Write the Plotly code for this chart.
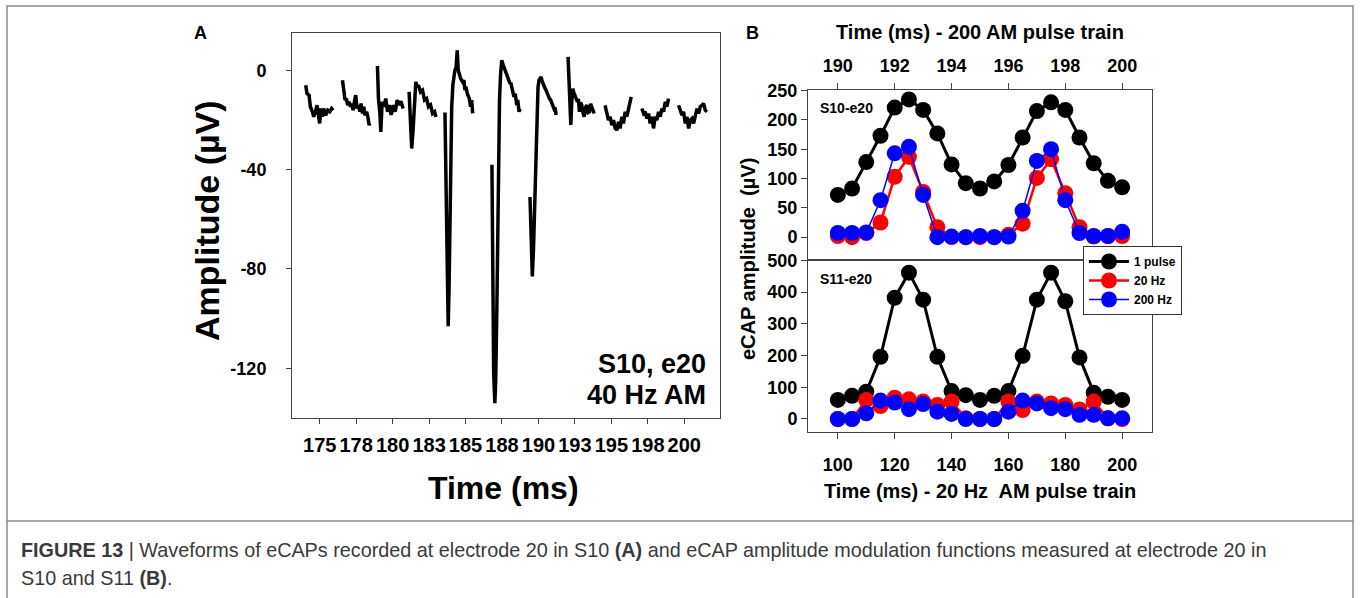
import plotly.graph_objects as go

FONT = "Arial, Liberation Sans, sans-serif"
W, H = 1360, 598

# ---- panel A: eCAP waveform, one segment per pulse (ms, uV) ----
seg1_t = [174.04, 174.13, 174.27, 174.36, 174.50, 174.59, 174.73, 174.82, 174.91, 175.00, 175.09, 175.19, 175.27, 175.41, 175.55, 175.69, 175.82, 175.92]
seg1_v = [-6.0, -9.4, -10.0, -14.7, -16.7, -18.7, -16.1, -14.1, -18.1, -21.4, -15.4, -18.7, -15.4, -18.1, -16.1, -16.7, -15.4, -16.1]
seg2_t = [176.56, 176.65, 176.74, 176.83, 176.92, 177.01, 177.11, 177.20, 177.29, 177.38, 177.47, 177.56, 177.66, 177.75, 177.84, 177.93, 178.02, 178.11, 178.21, 178.30, 178.39, 178.43]
seg2_v = [-4.0, -10.0, -12.0, -11.4, -14.1, -12.7, -14.7, -13.4, -16.1, -12.7, -10.0, -15.4, -14.1, -16.7, -13.4, -17.4, -14.7, -18.1, -16.7, -18.7, -22.1, -21.4]
seg3_t = [178.96, 179.03, 179.12, 179.19, 179.28, 179.40, 179.53, 179.65, 179.76, 179.90, 180.04, 180.18, 180.31, 180.45, 180.57, 180.72]
seg3_v = [1.7, -11.4, -16.7, -24.8, -12.7, -14.7, -11.4, -16.7, -14.0, -18.0, -14.0, -16.7, -12.0, -14.0, -12.5, -15.4]
seg4_t = [181.13, 181.22, 181.31, 181.41, 181.50, 181.59, 181.68, 181.77, 181.91, 182.05, 182.19, 182.33, 182.46, 182.60, 182.74, 182.88, 182.97]
seg4_v = [-8.7, -20.8, -31.5, -23.4, -10.0, -4.7, -6.7, -6.0, -8.7, -8.0, -12.0, -11.4, -14.7, -14.0, -17.4, -16.7, -18.8]
seg5_t = [183.59, 183.67, 183.75, 183.81, 183.87, 183.93, 183.97, 184.05, 184.13, 184.20, 184.27, 184.35, 184.43, 184.50, 184.57, 184.66, 184.80, 184.89, 184.96, 185.03, 185.12, 185.26, 185.35, 185.42, 185.49]
seg5_v = [-17, -60, -95, -103, -88, -55, -32, -15, -6, -2, 0, 1, 8, 0, -1.3, -3.3, -4.7, -4.0, -8.0, -6.7, -9.4, -11.4, -14.7, -12.0, -17.4]
seg6_t = [186.81, 186.86, 186.93, 187.01, 187.07, 187.15, 187.22, 187.27, 187.33, 187.40, 187.48, 187.59, 187.71, 187.82, 187.95, 188.05, 188.10, 188.23, 188.32, 188.41, 188.51, 188.58, 188.67, 188.74]
seg6_v = [-38, -85, -122, -134, -125, -95, -60, -35, -12, -2, 4, 2, 0, -1.3, -3, -5.4, -5.0, -8.0, -10.7, -9.4, -14.0, -12.0, -16.7, -15.5]
seg7_t = [189.42, 189.50, 189.58, 189.66, 189.74, 189.82, 189.90, 189.97, 190.04, 190.11, 190.18, 190.26, 190.34, 190.43, 190.52, 190.60, 190.68, 190.76, 190.84, 190.92, 191.00, 191.07, 191.14, 191.21]
seg7_v = [-51, -72, -83, -72, -52, -30, -14, -7, -4, -3, -2.7, -4.5, -6, -7, -8, -9.5, -10, -11.5, -12, -13.5, -14, -15.5, -15, -18]
seg8_t = [192.03, 192.12, 192.22, 192.29, 192.35, 192.43, 192.51, 192.59, 192.67, 192.74, 192.81, 192.89, 192.97, 193.05, 193.13, 193.22, 193.32, 193.41, 193.50, 193.58, 193.66, 193.74, 193.82]
seg8_v = [5.4, -8, -22, -12, -7.4, -9, -10, -11, -12.7, -11.5, -16.7, -13, -14, -17, -18.7, -15, -14, -17, -16.7, -13.5, -14.7, -16, -17.4]
seg9_t = [194.57, 194.69, 194.80, 194.92, 195.03, 195.15, 195.26, 195.38, 195.49, 195.60, 195.72, 195.83, 195.95, 196.06, 196.18, 196.29, 196.36]
seg9_v = [-14.1, -16.7, -20.1, -18.7, -22.1, -20.1, -23.4, -24.1, -20.8, -23.4, -18.7, -21.4, -16.7, -18.7, -15.4, -12.7, -10.7]
seg10_t = [197.09, 197.21, 197.32, 197.44, 197.55, 197.66, 197.78, 197.89, 198.01, 198.12, 198.24, 198.35, 198.47, 198.58, 198.70, 198.81, 198.92]
seg10_v = [-15.4, -17.4, -16.7, -19.4, -17.4, -21.4, -18.7, -23.4, -18.7, -20.1, -16.7, -18.7, -15.4, -16.7, -12.7, -14.7, -11.4]
seg11_t = [199.61, 199.73, 199.84, 199.95, 200.07, 200.18, 200.30, 200.41, 200.53, 200.64, 200.76, 200.87, 200.98, 201.10, 201.22, 201.33, 201.44, 201.56]
seg11_v = [-14.1, -16.1, -18.1, -16.7, -21.4, -18.7, -23.4, -20.1, -19.4, -21.4, -17.4, -15.4, -17.4, -14.7, -14.1, -13.4, -16.1, -16.7]

a_tickvals = [175, 177.5, 180, 182.5, 185, 187.5, 190, 192.5, 195, 197.5, 200]
a_ticktext = ["175", "178", "180", "183", "185", "188", "190", "193", "195", "198", "200"]
a_yticks = [0, -40, -80, -120]
a_yticktext = ["0", "-40", "-80", "-120"]

# ---- panel B: eCAP amplitude (uV) ----
t_200 = [190, 190.5, 191, 191.5, 192, 192.5, 193, 193.5, 194, 194.5, 195, 195.5, 196, 196.5, 197, 197.5, 198, 198.5, 199, 199.5, 200]
s10_1pulse = [72, 83, 128, 173, 221, 235, 217, 177, 124, 92, 83, 95, 123, 170, 215, 230, 217, 170, 126, 96, 85]
s10_20hz = [2, 0, 7, 25, 103, 137, 77, 17, 0, 0, 0, 0, 4, 23, 101, 133, 75, 17, 1, 2, 2]
s10_200hz = [7, 7, 8, 63, 143, 154, 72, 0, 1, 0, 2, 0, 1, 45, 130, 150, 63, 7, 2, 2, 9]

t_20 = [100, 105, 110, 115, 120, 125, 130, 135, 140, 145, 150, 155, 160, 165, 170, 175, 180, 185, 190, 195, 200]
s11_1pulse = [60, 73, 86, 196, 382, 461, 376, 196, 88, 75, 60, 73, 88, 199, 376, 461, 371, 194, 83, 70, 60]
s11_20hz = [0, 0, 60, 41, 67, 62, 55, 44, 55, 2, 0, 0, 55, 28, 55, 49, 44, 30, 55, 2, 0]
s11_200hz = [0, 0, 18, 58, 52, 31, 47, 23, 16, 0, 0, 0, 23, 58, 49, 34, 31, 13, 13, 2, 2]

series = [("1 pulse", "black", 3), ("20 Hz", "#ff0000", 2.5), ("200 Hz", "#0000ff", 1.5)]

wave_t, wave_v = [], []
for st, sv in [(seg1_t, seg1_v), (seg2_t, seg2_v), (seg3_t, seg3_v), (seg4_t, seg4_v),
               (seg5_t, seg5_v), (seg6_t, seg6_v), (seg7_t, seg7_v), (seg8_t, seg8_v),
               (seg9_t, seg9_v), (seg10_t, seg10_v), (seg11_t, seg11_v)]:
    wave_t += st + [None]
    wave_v += sv + [None]


def px(x):
    return x / W


def py(y):
    return 1 - y / H


fig = go.Figure()
fig.add_trace(go.Scatter(x=wave_t, y=wave_v, mode="lines", xaxis="x", yaxis="y",
                         line=dict(color="black", width=3.5), showlegend=False, connectgaps=False))

for (name, col, lw), up, low in zip(series, [s10_1pulse, s10_20hz, s10_200hz],
                                    [s11_1pulse, s11_20hz, s11_200hz]):
    mk = dict(size=16, color=col, line=dict(width=0))
    fig.add_trace(go.Scatter(x=t_200, y=up, mode="lines+markers", xaxis="x3", yaxis="y3",
                             name=name, legendgroup=name, line=dict(color=col, width=lw), marker=mk))
    fig.add_trace(go.Scatter(x=t_20, y=low, mode="lines+markers", xaxis="x2", yaxis="y2",
                             name=name, legendgroup=name, showlegend=False,
                             line=dict(color=col, width=lw), marker=mk))

ax = dict(showgrid=False, zeroline=False, showline=True, mirror=True, linecolor="#444",
          linewidth=1, ticks="outside", tickcolor="#444", ticklen=5, automargin=False)
tf = dict(family=FONT, size=18, color="black", weight="bold")

fig.update_layout(
    template="none",
    width=W, height=H, margin=dict(l=0, r=0, t=0, b=0, pad=0, autoexpand=False),
    paper_bgcolor="white", plot_bgcolor="white", font=dict(family=FONT, color="black"),
    xaxis=dict(ax, domain=[px(292), px(720)], anchor="y", range=[173.1, 202.45],
               tickvals=a_tickvals, ticktext=a_ticktext, ticklabelstandoff=4,
               tickfont=dict(tf, size=20)),
    yaxis=dict(ax, domain=[py(418), py(33)], anchor="x", range=[-140, 15],
               tickvals=a_yticks, ticktext=a_yticktext, ticklabelstandoff=16, tickfont=tf),
    xaxis2=dict(ax, domain=[px(808), px(1152)], anchor="y2", range=[89.5, 210.5],
                tickvals=[100, 120, 140, 160, 180, 200], ticklen=6, ticklabelstandoff=10, tickfont=tf),
    yaxis2=dict(ax, domain=[py(432), py(260)], anchor="x2", range=[-41, 501],
                tickvals=[0, 100, 200, 300, 400, 500], ticklen=6, tickfont=tf),
    xaxis3=dict(ax, domain=[px(808), px(1152)], anchor="y3", side="top", range=[188.95, 201.05],
                tickvals=[190, 192, 194, 196, 198, 200], ticklen=6, ticklabelstandoff=4, tickfont=tf),
    yaxis3=dict(ax, domain=[py(260), py(90)], anchor="x3", range=[-39, 251],
                tickvals=[0, 50, 100, 150, 200, 250], ticklen=6, tickfont=tf),
    legend=dict(x=px(1083), y=py(246), xanchor="left", yanchor="top", bgcolor="white",
                bordercolor="#333", borderwidth=1, font=dict(family=FONT, size=12, weight="bold"),
                tracegroupgap=0, itemwidth=40),
    showlegend=True,
)

bold = dict(family=FONT, color="black", weight="bold")
notes = [
    ("A", 200, 33, 18, 0, "center"),
    ("B", 752, 33, 18, 0, "center"),
    ("Amplitude (µV)", 207, 220, 34, -90, "center"),
    ("Time (ms)", 503, 488, 32, 0, "center"),
    ("S10, e20", 708, 364, 27, 0, "right"),
    ("40 Hz AM", 708, 395, 27, 0, "right"),
    ("Time (ms) - 200 AM pulse train", 980, 32, 20, 0, "center"),
    ("Time (ms) - 20 Hz\u00a0 AM pulse train", 980, 491, 20, 0, "center"),
    ("eCAP amplitude\u00a0 (µV)", 748, 259, 20, -90, "center"),
    ("S10-e20", 818, 108, 14, 0, "left"),
    ("S11-e20", 818, 279, 14, 0, "left"),
]
for txt, x, y, size, ang, anc in notes:
    fig.add_annotation(text=txt, x=px(x), y=py(y), xref="paper", yref="paper", showarrow=False,
                       xanchor=anc, yanchor="middle", textangle=ang, font=dict(bold, size=size))

cap_font = dict(family=FONT, size=19.8, color="#3a3a3a")
captions = [
    ("<b>FIGURE 13</b> | Waveforms of eCAPs recorded at electrode 20 in S10 <b>(A)</b> and eCAP amplitude "
     "modulation functions measured at electrode 20 in", 550),
    ("S10 and S11 <b>(B)</b>.", 578),
]
for txt, y in captions:
    fig.add_annotation(text=txt, x=px(19), y=py(y), xref="paper", yref="paper", showarrow=False,
                       xanchor="left", yanchor="middle", font=cap_font)

frame = dict(color="#8a8a8a", width=1.5)
fig.add_shape(type="rect", xref="paper", yref="paper", x0=px(7), x1=px(1353), y0=py(602), y1=py(6), line=frame)
fig.add_shape(type="line", xref="paper", yref="paper", x0=px(7), x1=px(1353), y0=py(521), y1=py(521), line=frame)

fig.write_html("out.html", config={"displayModeBar": False},
               post_script="document.body.style.margin='0px';")
